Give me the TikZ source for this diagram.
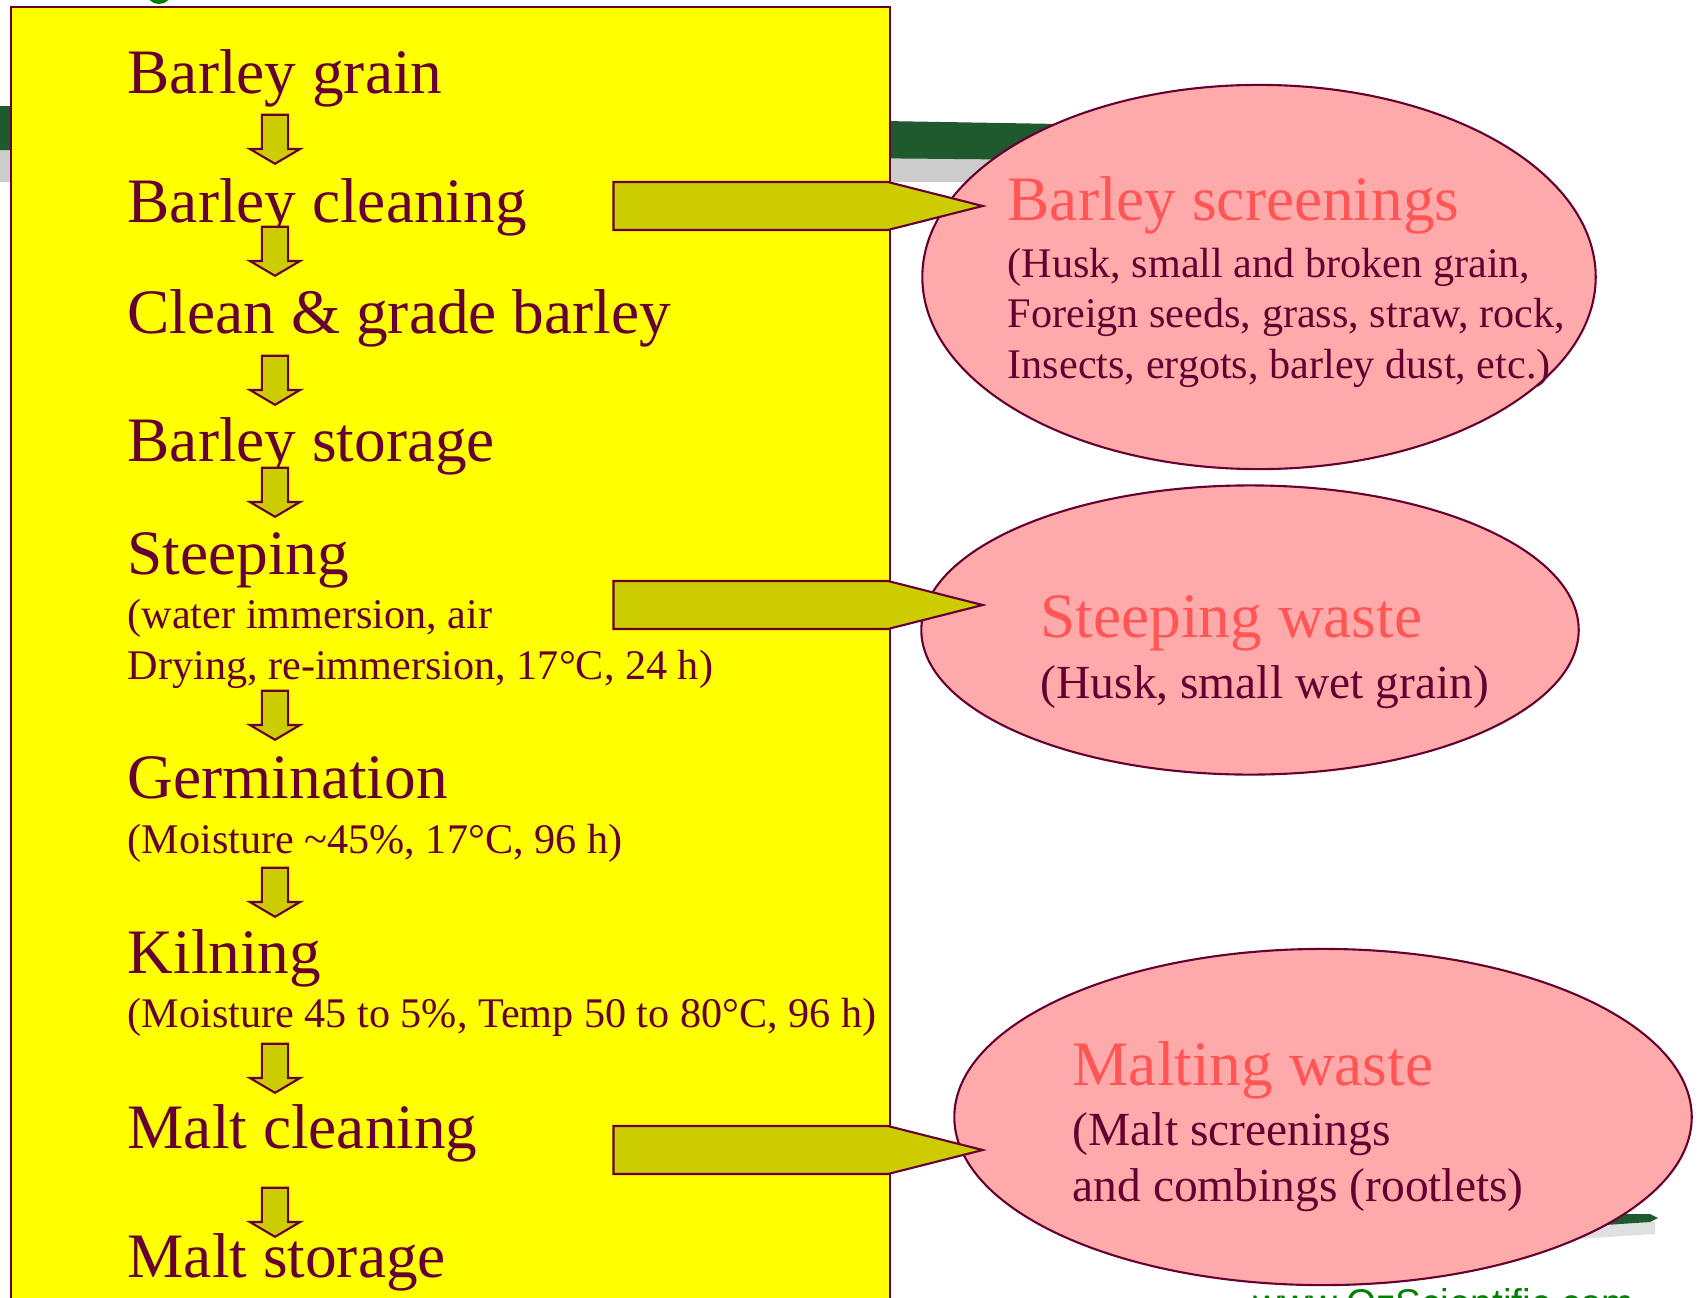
\documentclass[tikz,border=0pt]{standalone}
\usepackage{fontspec}
\setmainfont{Liberation Serif}
\newfontfamily\websans{Liberation Sans}
\usepackage{tikz}
\usetikzlibrary{shapes,positioning,calc}
\definecolor{darkgreen}{rgb}{0,0.5,0}
\definecolor{bandgreen}{RGB}{31,90,47}
\definecolor{darkwine}{RGB}{102,0,51}
\definecolor{boxyellow}{RGB}{255,255,0}
\definecolor{arrowolive}{RGB}{204,204,0}
\definecolor{wastepink}{RGB}{255,170,170}
\definecolor{wastered}{RGB}{255,85,85}
\newcommand{\lineset}[1]{\begin{tabular}[t]{@{}l@{}}#1\end{tabular}}

\begin{document}
\begin{tikzpicture}
  [x=0.01cm,y=-0.01cm,
   stepN/.style={anchor=base west,inner sep=0,text=darkwine,font=\fontsize{18}{22}\selectfont},
   noteN/.style={stepN,font=\fontsize{12}{14.5}\selectfont},
   bigNoteN/.style={stepN,font=\fontsize{13.5}{16.2}\selectfont},
   wasteT/.style={stepN,text=wastered},
   downN/.style={single arrow,draw=darkwine,fill=arrowolive,line width=0.6pt,rotate=-90,anchor=tip,
                 inner xsep=0,inner ysep=0.12cm,minimum height=0.49cm,
                 single arrow head extend=0.12cm,single arrow tip angle=119},
   sideN/.style={single arrow,draw=darkwine,fill=arrowolive,line width=0.6pt,anchor=tip,
                 inner sep=0,minimum height=3.69cm,minimum width=0.48cm,
                 single arrow head extend=0pt,single arrow tip angle=28.4},
   wasteN/.style={ellipse,draw=darkwine,fill=wastepink,line width=0.6pt,inner sep=0},
  ]

 \useasboundingbox (0,0) rectangle (1701,1297);
 \clip (0,0) rectangle (1701,1297);

 % swoosh of the slide behind
 \fill[black!20]   (0,148) -- (1060,158) -- (1060,182) -- (0,182) -- cycle;
 \fill[bandgreen]  (0,106) -- (1060,124) -- (1060,160) -- (0,150) -- cycle;
 \fill[black!12]   (1560,1224) -- (1655,1222) -- (1655,1234) -- (1560,1240) -- cycle;
 \fill[bandgreen]  (1560,1214) -- (1650,1214) -- (1658,1218) -- (1650,1222) -- (1560,1228) -- cycle;
 \fill[darkgreen]  (159,-9) circle[radius=0.13cm];

 % process box
 \draw[fill=boxyellow,draw=darkwine,line width=0.6pt] (11,7) rectangle (890,1320);

 \node[wasteN,minimum width=6.73cm,minimum height=3.84cm] (scrE) at (1259,277)  {};
 \node[wasteN,minimum width=6.57cm,minimum height=2.89cm] (steE) at (1250,630)  {};
 \node[wasteN,minimum width=7.37cm,minimum height=3.36cm] (malE) at (1323,1117) {};

 \node[stepN] (grain) at (127,94)   {Barley grain};
 \node[stepN] (clean) at (127,222)  {Barley cleaning};
 \node[stepN] (grade) at (127,333)  {Clean \& grade barley};
 \node[stepN] (store) at (127,461)  {Barley storage};
 \node[stepN] (steep) at (127,574)  {Steeping};
 \node[noteN] (steepN) at (127,628) {\lineset{(water immersion, air\\Drying, re-immersion, 17°C, 24 h)}};
 \node[stepN] (germ)  at (127,798)  {Germination};
 \node[noteN] (germN) at (127,853)  {(Moisture \textasciitilde45\%, 17°C, 96 h)};
 \node[stepN] (kiln)  at (127,973)  {Kilning};
 \node[noteN] (kilnN) at (127,1027) {(Moisture 45 to 5\%, Temp 50 to 80°C, 96 h)};
 \node[stepN] (mclean) at (127,1148) {Malt cleaning};
 \node[stepN] (mstore) at (127,1277) {Malt storage};

 \node[downN] (dnA) at (275,165)  {};
 \node[downN] (dnB) at (275,277)  {};
 \node[downN] (dnC) at (275,406)  {};
 \node[downN] (dnD) at (275,518)  {};
 \node[downN] (dnE) at (275,741)  {};
 \node[downN] (dnF) at (275,918)  {};
 \node[downN] (dnG) at (275,1094) {};
 \node[downN] (dnH) at (275,1238) {};

 \node[sideN] (toScr) at (987,206)  {};
 \node[sideN] (toSte) at (987,605)  {};
 \node[sideN] (toMal) at (987,1150) {};

 \node[wasteT]   (scrT) at (1007,220)  {Barley screenings};
 \node[noteN]    (scrN) at (1007,277)  {\lineset{(Husk, small and broken grain,\\Foreign seeds, grass, straw, rock,\\Insects, ergots, barley dust, etc.)}};
 \node[wasteT]   (steT) at (1040,637)  {Steeping waste};
 \node[bigNoteN] (steN) at (1040,698)  {(Husk, small wet grain)};
 \node[wasteT]   (malT) at (1072,1085) {Malting waste};
 \node[bigNoteN] (malN) at (1072,1145) {\lineset{(Malt screenings\\and combings (rootlets)}};

 \node[anchor=base west,inner sep=0,text=darkgreen,font=\websans\fontsize{11}{13}\selectfont]
   (web) at (1253,1316) {www.OzScientific.com};

\end{tikzpicture}
\end{document}
